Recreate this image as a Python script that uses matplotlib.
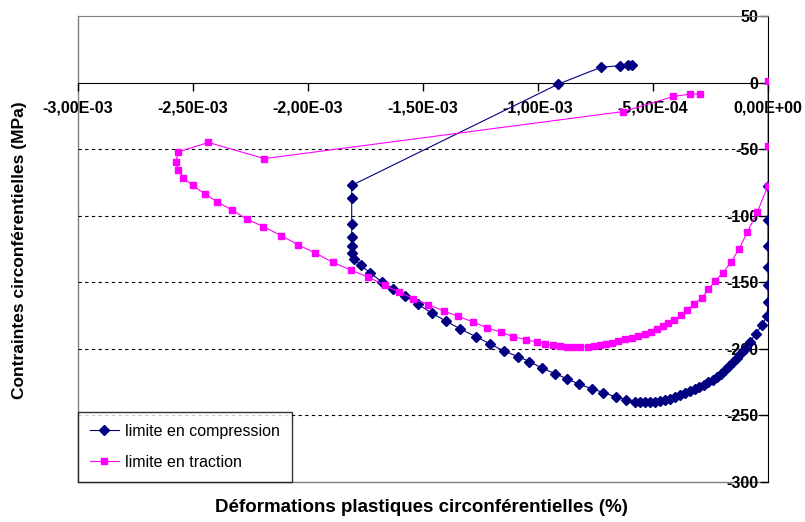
import numpy as np
import matplotlib
matplotlib.use("Agg")
import matplotlib.pyplot as plt
from matplotlib.ticker import FuncFormatter, MultipleLocator

plt.rcParams['font.family'] = ['Liberation Sans', 'DejaVu Sans']

# limite en compression (strain in 1e-3, stress in MPa)
comp_x = [-0.592, -0.607, -0.643, -0.726, -0.912, -1.81, -1.81, -1.81, -1.81, -1.81,
          -1.81, -1.80, -1.77, -1.73, -1.68, -1.63, -1.58, -1.52, -1.46, -1.40,
          -1.34, -1.27, -1.21, -1.148, -1.086, -1.038, -0.984, -0.926, -0.875, -0.82,
          -0.767, -0.716, -0.661, -0.617, -0.578, -0.557, -0.535, -0.513, -0.491, -0.470,
          -0.448, -0.426, -0.404, -0.383, -0.361, -0.339, -0.317, -0.299, -0.278, -0.26,
          -0.24, -0.223, -0.204, -0.187, -0.17, -0.153, -0.136, -0.12, -0.1, -0.08,
          -0.053, -0.027, -0.004, 0.0, 0.0, 0.0, 0.0, 0.0, 0.0]
comp_y = [13.5, 13.5, 12.7, 11.5, -1.2, -77.3, -86.7, -106, -116, -122.5,
          -128, -132.5, -137.5, -143, -149.7, -155, -160.5, -166.8, -173.5, -179.3,
          -185, -191, -196.3, -201.8, -206, -209.7, -214.5, -218.8, -222.5, -226.8,
          -230, -233, -236.3, -238.5, -240, -240.3, -240.3, -240.3, -240, -239.3,
          -238.5, -237.5, -236.3, -235, -233.5, -232, -230.3, -228.8, -227, -225.3,
          -223.3, -221.3, -219, -216, -213, -210, -207, -204, -200, -195,
          -189, -182.5, -175.5, -165, -152, -139, -122.5, -103, -78]

# limite en traction
trac_x = [0.0, 0.0, 0.0, -0.046, -0.09, -0.125, -0.161, -0.197, -0.23, -0.26,
          -0.288, -0.322, -0.351, -0.378, -0.407, -0.433, -0.458, -0.484, -0.51, -0.535,
          -0.564, -0.593, -0.622, -0.651, -0.68, -0.704, -0.73, -0.755, -0.784, -0.817,
          -0.847, -0.875, -0.904, -0.936, -0.97, -1.006, -1.052, -1.107, -1.162, -1.223,
          -1.284, -1.347, -1.407, -1.477, -1.542, -1.603, -1.665, -1.737, -1.814, -1.893,
          -1.97, -2.045, -2.117, -2.194, -2.264, -2.332, -2.394, -2.45, -2.501, -2.542,
          -2.564, -2.575, -2.564, -2.433, -2.19, -0.629, -0.412, -0.339, -0.296]
trac_y = [1.3, -48, -77.5, -97.2, -112.5, -124.8, -135, -143, -149.3, -155.5,
          -162, -166.5, -171.3, -175, -178.3, -181, -183, -185.5, -187.5, -188.8,
          -190.5, -191.8, -193, -194.3, -196, -196.8, -197.3, -197.8, -198.5, -198.8,
          -198.8, -198.5, -198, -197.3, -196.2, -195, -193.3, -191, -187.5, -184.3,
          -179.8, -175.8, -171.8, -167, -162.5, -157.5, -152.5, -146.3, -141, -135,
          -128, -121.8, -115, -108.3, -102.8, -95.7, -89.7, -83.5, -77.3, -71.7,
          -65.5, -60, -52.2, -45, -57.2, -21.8, -10.5, -8.7, -8.7]

comp_x = np.array(comp_x) * 1e-3
trac_x = np.array(trac_x) * 1e-3

fig = plt.figure(figsize=(8.05, 5.22), dpi=100)
ax = fig.add_axes([78/805, 1 - 481.7/522, 690/805, (481.7 - 16)/522])

for yv in [-50, -100, -150, -200, -250]:
    ax.axhline(yv, color='black', lw=0.8, ls=(0, (3, 3)), zorder=1)

ax.plot(comp_x, comp_y, color='#000080', lw=0.8, marker='D', ms=5,
        label='limite en compression', zorder=3)
ax.plot(trac_x, trac_y, color='#FF00FF', lw=0.8, marker='s', ms=5,
        label='limite en traction', zorder=4)

ax.set_xlim(-3e-3, 0)
ax.set_ylim(-300, 50)

# axes crossing at x=0 and y=0, Excel style
ax.spines['left'].set_position(('data', 0))
ax.spines['bottom'].set_position(('data', 0))
ax.spines['left'].set_color('black')
ax.spines['bottom'].set_color('black')
ax.spines['right'].set_visible(False)
ax.spines['top'].set_color('#808080')
for xs, ys in [([0, 0], [0, 1]), ([0, 1], [0, 0])]:
    ax.plot(xs, ys, transform=ax.transAxes, color='#808080', lw=1, clip_on=False, zorder=0)

ax.xaxis.set_major_locator(MultipleLocator(5e-4))
ax.yaxis.set_major_locator(MultipleLocator(50))
ax.xaxis.set_major_formatter(FuncFormatter(lambda v, p: f"{v:.2E}".replace('.', ',').replace('-0,00', '0,00')))
ax.yaxis.set_major_formatter(FuncFormatter(lambda v, p: f"{int(round(v))}"))
ax.tick_params(axis='x', direction='out', length=6, width=1, labelsize=11.5, pad=7)
ax.tick_params(axis='y', direction='out', length=6, width=1, labelsize=11.5, pad=1)
for lab in ax.get_xticklabels() + ax.get_yticklabels():
    lab.set_fontweight('bold')

fig.text(421/805, 1 - 508/522, 'Déformations plastiques circonférentielles (%)',
         ha='center', va='center', fontsize=13.5, fontweight='bold')
fig.text(20/805, 1 - 250/522, 'Contraintes circonférentielles (MPa)',
         ha='center', va='center', rotation=90, fontsize=12.5, fontweight='bold')

leg = ax.legend(loc='lower left', bbox_to_anchor=(0, 0), fontsize=11.5, frameon=True,
                fancybox=False, edgecolor='black', borderpad=0.75, labelspacing=1.0,
                handlelength=1.8, handletextpad=0.4, borderaxespad=0)
leg.get_frame().set_linewidth(1)

fig.savefig('out.png', dpi=100)
